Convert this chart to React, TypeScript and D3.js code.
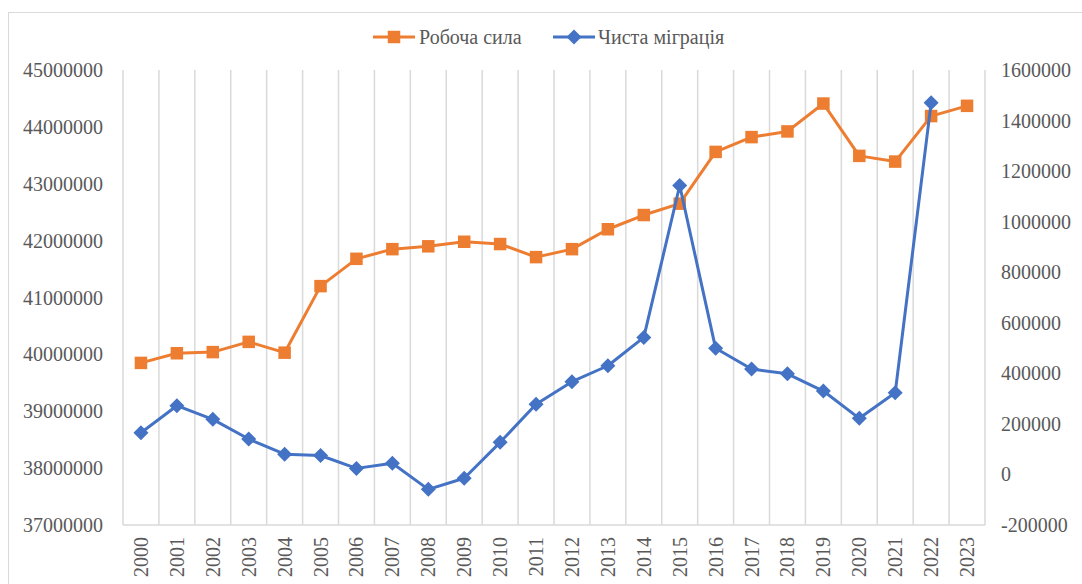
import React from "react";
import * as d3 from "d3";

const years = [
  "2000","2001","2002","2003","2004","2005","2006","2007","2008","2009","2010","2011",
  "2012","2013","2014","2015","2016","2017","2018","2019","2020","2021","2022","2023",
];
const laborForce = [
  39850000, 40020000, 40040000, 40220000, 40030000, 41200000, 41680000, 41850000,
  41900000, 41980000, 41940000, 41710000, 41850000, 42200000, 42450000, 42650000,
  43560000, 43820000, 43920000, 44410000, 43490000, 43390000, 44190000, 44370000,
];
const netMigration: (number | null)[] = [
  165000, 272000, 218000, 140000, 80000, 75000, 24000, 44000,
  -59000, -15000, 127000, 278000, 367000, 430000, 542000, 1143000,
  499000, 417000, 398000, 330000, 222000, 323000, 1470000, null,
];
const leftTicks = [37000000, 38000000, 39000000, 40000000, 41000000, 42000000, 43000000, 44000000, 45000000];
const rightTicks = [-200000, 0, 200000, 400000, 600000, 800000, 1000000, 1200000, 1400000, 1600000];
const seriesNames = ["Робоча сила", "Чиста міграція"];

const ORANGE = "#ED7D31";
const BLUE = "#4472C4";
const GRID = "#D9D9D9";
const TEXT = "#595959";
const FONT = "'Liberation Serif', 'Times New Roman', 'DejaVu Serif', serif";
const FS = 20;

export default function App() {
  const W = 1082, H = 584;
  const plot = { left: 123, right: 985, top: 70, bottom: 525 };

  const x = d3.scaleBand<string>().domain(years).range([plot.left, plot.right]).padding(0);
  const yL = d3.scaleLinear().domain([37000000, 45000000]).range([plot.bottom, plot.top]);
  const yR = d3.scaleLinear().domain([-200000, 1600000]).range([plot.bottom, plot.top]);
  const cx = (y: string) => (x(y) as number) + x.bandwidth() / 2;

  const lineL = d3.line<number>().x((_, i) => cx(years[i])).y((d) => yL(d));
  const lineR = d3
    .line<number | null>()
    .defined((d) => d !== null)
    .x((_, i) => cx(years[i]))
    .y((d) => yR(d as number));

  const sq = 12.5;
  const dm = 7.5;
  const diamond = (px: number, py: number, r: number) =>
    `M${px},${py - r}L${px + r},${py}L${px},${py + r}L${px - r},${py}Z`;

  const bounds = years.map((y) => x(y) as number).concat([plot.right]);
  const ts: React.CSSProperties = { fontFamily: FONT, fontSize: FS };

  return (
    <svg
      width={W}
      height={H}
      style={{ position: "absolute", left: 0, top: 0, background: "#fff" }}
    >
      <rect x={8.5} y={12.5} width={W + 20} height={H + 20} fill="#fff" stroke={GRID} strokeWidth={1} />

      {bounds.map((bx, i) => (
        <line key={"g" + i} x1={bx} x2={bx} y1={plot.top} y2={plot.bottom} stroke={GRID} strokeWidth={1.5} />
      ))}
      <line x1={plot.left} x2={plot.right} y1={plot.bottom} y2={plot.bottom} stroke={GRID} strokeWidth={1.5} />

      {leftTicks.map((t) => (
        <text key={"l" + t} x={103} y={yL(t)} textAnchor="end" dominantBaseline="central" style={ts} fill={TEXT}>
          {t}
        </text>
      ))}
      {rightTicks.map((t) => (
        <text key={"r" + t} x={1001} y={yR(t)} textAnchor="start" dominantBaseline="central" style={ts} fill={TEXT}>
          {t}
        </text>
      ))}
      {years.map((yy) => (
        <text
          key={"x" + yy}
          x={cx(yy)}
          y={537}
          transform={`rotate(-90 ${cx(yy)} 537)`}
          textAnchor="end"
          dominantBaseline="central"
          style={ts}
          fill={TEXT}
        >
          {yy}
        </text>
      ))}

      <path d={lineL(laborForce) || ""} fill="none" stroke={ORANGE} strokeWidth={3} strokeLinejoin="round" />
      {laborForce.map((v, i) => (
        <rect key={"s" + i} x={cx(years[i]) - sq / 2} y={yL(v) - sq / 2} width={sq} height={sq} fill={ORANGE} />
      ))}

      <path d={lineR(netMigration) || ""} fill="none" stroke={BLUE} strokeWidth={3} strokeLinejoin="round" />
      {netMigration.map((v, i) =>
        v === null ? null : <path key={"d" + i} d={diamond(cx(years[i]), yR(v), dm)} fill={BLUE} />
      )}

      <g>
        <line x1={373} x2={415} y1={37} y2={37} stroke={ORANGE} strokeWidth={3} />
        <rect x={394 - sq / 2} y={37 - sq / 2} width={sq} height={sq} fill={ORANGE} />
        <text x={419} y={37} dominantBaseline="central" style={ts} fill={TEXT}>
          {seriesNames[0]}
        </text>
        <line x1={553} x2={595} y1={37} y2={37} stroke={BLUE} strokeWidth={3} />
        <path d={diamond(574, 37, dm)} fill={BLUE} />
        <text x={598} y={37} dominantBaseline="central" style={ts} fill={TEXT}>
          {seriesNames[1]}
        </text>
      </g>
    </svg>
  );
}
